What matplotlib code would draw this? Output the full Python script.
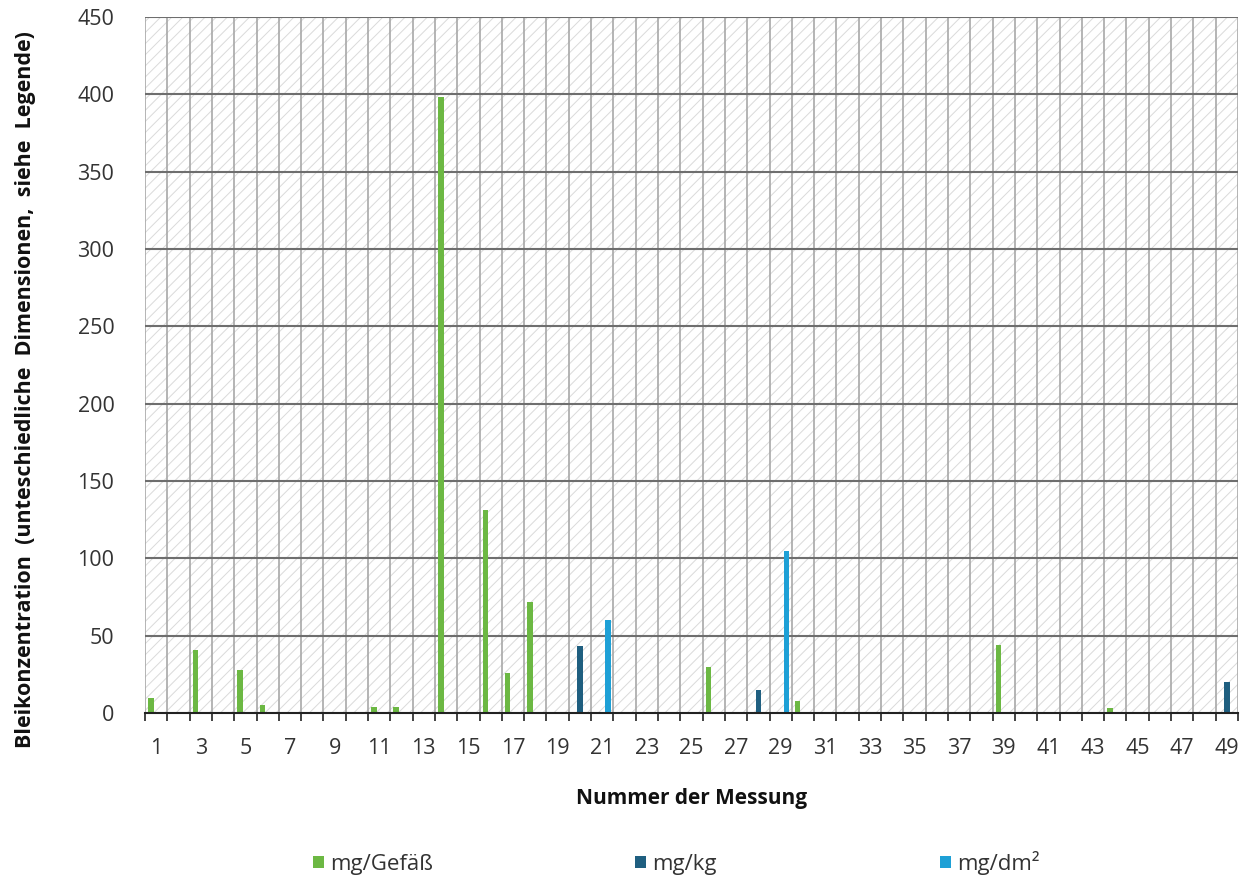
import numpy as np
import matplotlib
matplotlib.use('Agg')
import matplotlib.pyplot as plt
from matplotlib.patches import Rectangle

plt.rcParams['font.family'] = ['Open Sans', 'DejaVu Sans']
plt.rcParams['hatch.linewidth'] = 0.7
plt.rcParams['hatch.color'] = '#dadada'

# Messnummern 1..49
messungen = np.arange(1, 50)

# Werte je Einheit (nur belegte Messungen)
gefaess = {1: 10, 3: 41, 5: 28, 6: 5, 11: 4, 12: 4, 14: 398, 16: 131,
           17: 26, 18: 72, 26: 30, 30: 8, 39: 44, 44: 3}
kg = {20: 43, 28: 15, 49: 20}
dm2 = {21: 60, 29: 105}

series = [
    ('mg/Gefäß', gefaess, '#6cb843'),
    ('mg/kg', kg, '#1f5f80'),
    ('mg/dm²', dm2, '#1ea0d6'),
]

fig = plt.figure(figsize=(12.53, 8.81), dpi=100)
ax = fig.add_axes([0.1157, 0.1907, 0.8723, 0.79])

# hatched background
ax.add_patch(Rectangle((0, 0), 1, 1, transform=ax.transAxes, facecolor='white',
                       hatch='///', edgecolor='#dadada', linewidth=0, zorder=0))

width = 0.25
offsets = [-0.24, 0.0, 0.26]
for (name, vals, color), off in zip(series, offsets):
    x = np.array(sorted(vals.keys()))
    y = np.array([vals[k] for k in x])
    ax.bar(x + off, y, width=width, color=color, zorder=3, label=name)

ax.set_xlim(0.5, 49.5)
ax.set_ylim(0, 450)

# gridlines
for b in np.arange(0.5, 50.5, 1):
    ax.axvline(b, color='#a8a8a8', linewidth=1.2, zorder=1)
for v in range(50, 451, 50):
    ax.axhline(v, color='#6e6e6e', linewidth=1.5, zorder=2)

ax.set_yticks(range(0, 451, 50))
ax.set_xticks(messungen[::2])
ax.set_xticks(np.arange(0.5, 50.5, 1), minor=True)
ax.tick_params(axis='x', which='major', length=0, labelsize=15.5, pad=18, colors='#333333')
ax.tick_params(axis='x', which='minor', length=6, width=1.2, color='#222222', direction='out')
ax.tick_params(axis='y', length=0, labelsize=15.5, pad=22, colors='#333333')

for s in ['top', 'right', 'left']:
    ax.spines[s].set_visible(False)
ax.spines['bottom'].set_color('#222222')
ax.spines['bottom'].set_linewidth(1.5)
ax.spines['bottom'].set_zorder(4)

ax.set_xlabel('Nummer der Messung', fontsize=15, fontweight='bold', color='#111111')
ax.xaxis.set_label_coords(0.5, -0.108)
ax.set_ylabel('Bleikonzentration  (unteschiedliche  Dimensionen,  siehe  Legende)',
              fontsize=15.5, fontweight='bold', color='#111111')
ax.yaxis.set_label_coords(-0.1, 0.464)

# legend entries spread across the bottom (marker square + text on a common baseline)
W, H = fig.get_size_inches() * fig.dpi
for (name, _, color), xpx in zip(series, [313, 635, 940]):
    fig.patches.append(Rectangle((xpx / W, 1 - 868 / H), 11 / W, 12 / H,
                                 transform=fig.transFigure, facecolor=color,
                                 edgecolor='none'))
    fig.text((xpx + 17) / W, 1 - 870 / H, name, fontsize=16, color='#333333',
             ha='left', va='baseline')

fig.savefig('out.png', dpi=100)
